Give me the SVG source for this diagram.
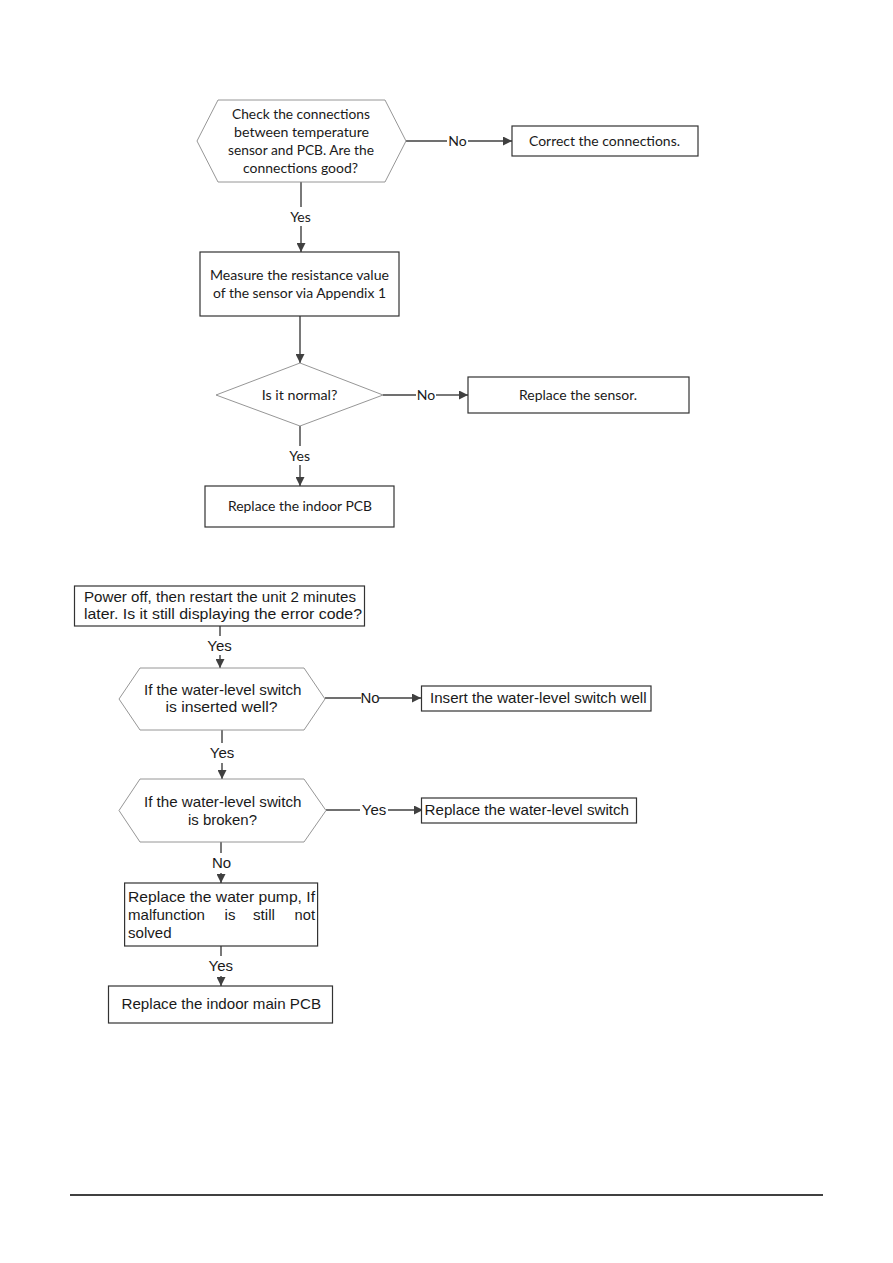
<svg xmlns="http://www.w3.org/2000/svg" width="893" height="1263" viewBox="0 0 893 1263">
<defs>
<style>
.c{font-family:Lato,"Open Sans","Liberation Sans",sans-serif;font-size:14px;fill:#1a1a1a}
.a{font-family:"Liberation Sans",Arial,sans-serif;font-size:15px;fill:#1a1a1a}
.box{fill:#fff;stroke:#333;stroke-width:1.2}
.shape{fill:#fff;stroke:#8a8a8a;stroke-width:0.9}
.ln{fill:none;stroke:#404040;stroke-width:1.4}
</style>
<marker id="ar" viewBox="0 0 10 10" refX="10" refY="5" markerWidth="10" markerHeight="9" markerUnits="userSpaceOnUse" orient="auto">
<path d="M0,0 L10,5 L0,10 z" fill="#404040"/>
</marker>
</defs>
<rect width="893" height="1263" fill="#fff"/>

<g id="connectors">
<!-- chart 1 -->
<line class="ln" x1="406" y1="141" x2="447" y2="141"/>
<line class="ln" x1="468" y1="141" x2="512" y2="141" marker-end="url(#ar)"/>
<line class="ln" x1="301" y1="182" x2="301" y2="207"/>
<line class="ln" x1="301" y1="226" x2="301" y2="252" marker-end="url(#ar)"/>
<line class="ln" x1="300" y1="316" x2="300" y2="363" marker-end="url(#ar)"/>
<line class="ln" x1="383" y1="395" x2="416" y2="395"/>
<line class="ln" x1="436" y1="395" x2="468" y2="395" marker-end="url(#ar)"/>
<line class="ln" x1="300" y1="426" x2="300" y2="446"/>
<line class="ln" x1="300" y1="465" x2="300" y2="486" marker-end="url(#ar)"/>
<!-- chart 2 -->
<line class="ln" x1="220" y1="626" x2="220" y2="636"/>
<line class="ln" x1="220" y1="655" x2="220" y2="668" marker-end="url(#ar)"/>
<line class="ln" x1="325" y1="698" x2="361" y2="698"/>
<line class="ln" x1="379" y1="698" x2="421" y2="698" marker-end="url(#ar)"/>
<line class="ln" x1="222" y1="730" x2="222" y2="743"/>
<line class="ln" x1="222" y1="763" x2="222" y2="779" marker-end="url(#ar)"/>
<line class="ln" x1="326" y1="810" x2="360" y2="810"/>
<line class="ln" x1="388" y1="810" x2="423" y2="810" marker-end="url(#ar)"/>
<line class="ln" x1="221" y1="842" x2="221" y2="853"/>
<line class="ln" x1="221" y1="873" x2="221" y2="883" marker-end="url(#ar)"/>
<line class="ln" x1="221" y1="946" x2="221" y2="956"/>
<line class="ln" x1="221" y1="976" x2="221" y2="986" marker-end="url(#ar)"/>
<!-- labels -->
<text class="c" x="457.5" y="146" text-anchor="middle">No</text>
<text class="c" x="300.5" y="222" text-anchor="middle">Yes</text>
<text class="c" x="426" y="400" text-anchor="middle">No</text>
<text class="c" x="299.7" y="461" text-anchor="middle">Yes</text>
<text class="a" x="219.6" y="651" text-anchor="middle">Yes</text>
<text class="a" x="370" y="703" text-anchor="middle">No</text>
<text class="a" x="222" y="758" text-anchor="middle">Yes</text>
<text class="a" x="374" y="815" text-anchor="middle">Yes</text>
<text class="a" x="221.5" y="868" text-anchor="middle">No</text>
<text class="a" x="220.8" y="971" text-anchor="middle">Yes</text>
</g>

<g id="n1">
<polygon class="shape" points="218,100 385,100 406,141 385,182 218,182 197,141"/>
<text class="c" x="301" y="119" text-anchor="middle" textLength="138" lengthAdjust="spacingAndGlyphs">Check the connections</text>
<text class="c" x="301.5" y="137" text-anchor="middle" textLength="135" lengthAdjust="spacingAndGlyphs">between temperature</text>
<text class="c" x="301" y="155" text-anchor="middle" textLength="146" lengthAdjust="spacingAndGlyphs">sensor and PCB. Are the</text>
<text class="c" x="300.5" y="173" text-anchor="middle" textLength="115" lengthAdjust="spacingAndGlyphs">connections good?</text>
</g>
<g id="n2">
<rect class="box" x="512" y="126" width="186" height="30"/>
<text class="c" x="604.5" y="146" text-anchor="middle" textLength="151" lengthAdjust="spacingAndGlyphs">Correct the connections.</text>
</g>
<g id="n3">
<rect class="box" x="200" y="252" width="199" height="64"/>
<text class="c" x="299.5" y="280" text-anchor="middle" textLength="179" lengthAdjust="spacingAndGlyphs">Measure the resistance value</text>
<text class="c" x="299.5" y="298" text-anchor="middle" textLength="173" lengthAdjust="spacingAndGlyphs">of the sensor via Appendix 1</text>
</g>
<g id="n4">
<polygon class="shape" points="300,363 383,395 300,426 216,395"/>
<text class="c" x="299.5" y="400" text-anchor="middle" textLength="75.6" lengthAdjust="spacingAndGlyphs">Is it normal?</text>
</g>
<g id="n5">
<rect class="box" x="468" y="377" width="221" height="36"/>
<text class="c" x="578" y="400" text-anchor="middle" textLength="118" lengthAdjust="spacingAndGlyphs">Replace the sensor.</text>
</g>
<g id="n6">
<rect class="box" x="205" y="486" width="189" height="41"/>
<text class="c" x="300" y="511" text-anchor="middle" textLength="144" lengthAdjust="spacingAndGlyphs">Replace the indoor PCB</text>
</g>

<g id="m1">
<rect class="box" x="74.5" y="586" width="290" height="40"/>
<text class="a" x="84" y="602" textLength="272" lengthAdjust="spacingAndGlyphs">Power off, then restart the unit 2 minutes</text>
<text class="a" x="84" y="619" textLength="278" lengthAdjust="spacingAndGlyphs">later. Is it still displaying the error code?</text>
</g>
<g id="m2">
<polygon class="shape" points="140,668 304,668 325,699 304,730 140,730 119,699"/>
<text class="a" x="222.7" y="695" text-anchor="middle" textLength="157.5" lengthAdjust="spacingAndGlyphs">If the water-level switch</text>
<text class="a" x="221.5" y="712" text-anchor="middle" textLength="112" lengthAdjust="spacingAndGlyphs">is inserted well?</text>
</g>
<g id="m3">
<rect class="box" x="421.5" y="686" width="229.5" height="25"/>
<text class="a" x="430" y="703" textLength="216.5" lengthAdjust="spacingAndGlyphs">Insert the water-level switch well</text>
</g>
<g id="m4">
<polygon class="shape" points="140,779 304,779 326,810.5 304,842 140,842 119,810.5"/>
<text class="a" x="222.7" y="807" text-anchor="middle" textLength="157.5" lengthAdjust="spacingAndGlyphs">If the water-level switch</text>
<text class="a" x="222.5" y="825" text-anchor="middle" textLength="69" lengthAdjust="spacingAndGlyphs">is broken?</text>
</g>
<g id="m5">
<rect class="box" x="421.5" y="798" width="215" height="25"/>
<text class="a" x="424.6" y="815" textLength="204.4" lengthAdjust="spacingAndGlyphs">Replace the water-level switch</text>
</g>
<g id="m6">
<rect class="box" x="124.6" y="883" width="193" height="63"/>
<text class="a" x="128" y="902" textLength="187" lengthAdjust="spacingAndGlyphs">Replace the water pump, If</text>
<text class="a" y="920"><tspan x="128" textLength="77" lengthAdjust="spacingAndGlyphs">malfunction</tspan><tspan x="224.6">is</tspan><tspan x="253" textLength="22" lengthAdjust="spacingAndGlyphs">still</tspan><tspan x="294.6" textLength="20.4" lengthAdjust="spacingAndGlyphs">not</tspan></text>
<text class="a" x="128" y="938" textLength="43.5" lengthAdjust="spacingAndGlyphs">solved</text>
</g>
<g id="m7">
<rect class="box" x="108.5" y="986" width="224" height="37"/>
<text class="a" x="121.5" y="1009" textLength="199.5" lengthAdjust="spacingAndGlyphs">Replace the indoor main PCB</text>
</g>

<line x1="70" y1="1195" x2="823" y2="1195" stroke="#000" stroke-width="1.3"/>
</svg>
